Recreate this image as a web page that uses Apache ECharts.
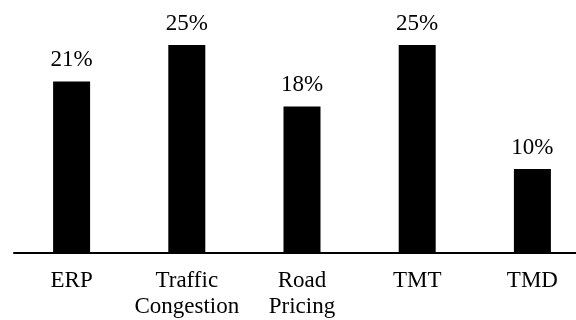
<!DOCTYPE html>
<html>
<head>
<meta charset="utf-8">
<script src="https://cdn.jsdelivr.net/npm/echarts@6/dist/echarts.min.js"></script>
<style>html,body{margin:0;padding:0;background:#fff;overflow:hidden;width:576px;height:320px}#c{width:604px;height:320px}</style>
</head>
<body>
<div id="c"></div>
<script>
var categories = ['ERP', 'Traffic\nCongestion', 'Road\nPricing', 'TMT', 'TMD'];
var values = [20.6, 25, 17.6, 25, 10.1];

var chart = echarts.init(document.getElementById('c'), null, {renderer: 'canvas'});
var font = '"Liberation Serif", "Times New Roman", serif';
chart.setOption({
  animation: false,
  backgroundColor: '#fff',
  grid: {left: 14, right: 14, top: 45, bottom: 67, containLabel: false},
  xAxis: {
    type: 'category',
    data: categories,
    axisLine: {show: true, lineStyle: {color: '#000', width: 2}},
    axisTick: {show: false},
    axisLabel: {color: '#000', fontFamily: font, fontSize: 23, lineHeight: 26, margin: 15, interval: 0}
  },
  yAxis: {
    type: 'value', min: 0, max: 25, show: false, splitLine: {show: false}
  },
  series: [{
    type: 'bar',
    data: values,
    barWidth: 37,
    itemStyle: {color: '#000'},
    label: {
      show: true, position: 'top', distance: 10, color: '#000',
      fontFamily: font, fontSize: 23,
      formatter: function (p) { return Math.round(p.value) + '%'; }
    }
  }]
});
</script>
</body>
</html>
